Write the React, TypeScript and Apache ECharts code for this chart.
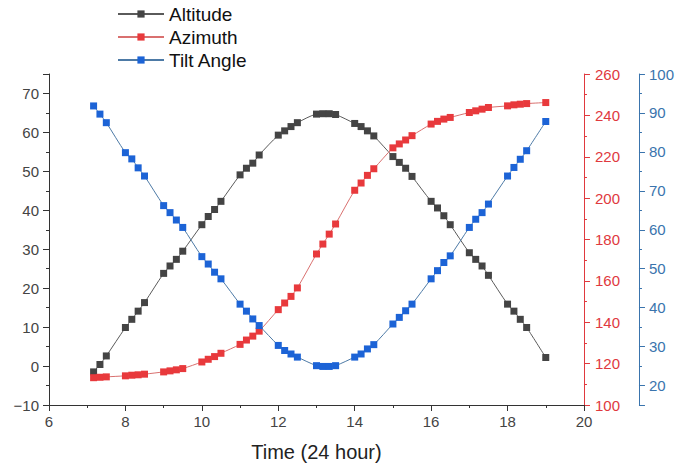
import React, { useEffect, useRef } from "react";
import * as echarts from "echarts";

const times = [
  7.167, 7.333, 7.5,
  8, 8.167, 8.333, 8.5,
  9, 9.167, 9.333, 9.5,
  10, 10.167, 10.333, 10.5,
  11, 11.167, 11.333, 11.5,
  12, 12.167, 12.333, 12.5,
  13, 13.167, 13.333, 13.5,
  14, 14.167, 14.333, 14.5,
  15, 15.167, 15.333, 15.5,
  16, 16.167, 16.333, 16.5,
  17, 17.167, 17.333, 17.5,
  18, 18.167, 18.333, 18.5,
  19,
];

const altitude = [
  -1.5, 0.4, 2.6,
  9.9, 12.0, 14.1, 16.3,
  23.8, 25.7, 27.4, 29.5,
  36.3, 38.4, 40.2, 42.3,
  49.1, 50.8, 52.1, 54.2,
  59.3, 60.4, 61.5, 62.5,
  64.7, 64.8, 64.8, 64.6,
  62.3, 61.5, 60.4, 59.1,
  53.8, 52.3, 50.8, 48.7,
  42.3, 40.6, 38.6, 36.3,
  29.1, 27.4, 25.7, 23.3,
  15.9, 14.1, 12.0, 9.9,
  2.2,
];

const azimuth = [
  113.2, 113.4, 113.6,
  114.1, 114.4, 114.6, 114.9,
  116.0, 116.5, 117.0, 117.6,
  120.8, 122.1, 123.4, 125.0,
  129.3, 131.4, 133.3, 135.7,
  146.1, 149.3, 152.5, 156.6,
  173.0, 177.8, 182.6, 187.5,
  203.8, 207.3, 211.0, 214.2,
  224.3, 226.2, 228.1, 230.2,
  235.8, 237.1, 238.2, 239.0,
  241.4, 242.2, 243.0, 243.8,
  244.6, 245.1, 245.4, 245.7,
  246.2,
];

const tilt = [
  91.8, 89.7, 87.5,
  79.8, 78.2, 75.9, 73.8,
  66.2, 64.4, 62.5, 60.6,
  53.1, 51.2, 49.1, 47.4,
  40.9, 39.1, 37.1, 35.4,
  30.3, 29.0, 28.1, 27.3,
  25.1, 24.9, 24.9, 25.1,
  27.3, 28.1, 29.4, 30.5,
  35.8, 37.5, 39.2, 40.9,
  47.4, 49.5, 51.6, 53.3,
  60.6, 62.7, 64.4, 66.6,
  73.8, 76.0, 78.1, 80.3,
  87.8,
];

const seriesNames = ["Altitude", "Azimuth", "Tilt Angle"];

const FONT = 'Arial, "Liberation Sans", sans-serif';

export default function App() {
  const ref = useRef<HTMLDivElement>(null);
  useEffect(() => {
    if (!ref.current) return;
    const chart = echarts.init(ref.current, undefined, { renderer: "svg" });
    const pair = (vals: number[]) => times.map((t, i) => [t, vals[i]]);
    const black = "#444444";
    const red = "#e8393c";
    const blue = "#1c63d6";
    const blueAxis = "#3a74ad";
    const redAxis = "#e0393e";
    const axisLabelBase = { fontFamily: FONT, fontSize: 15 };
    chart.setOption({
      animation: false,
      backgroundColor: "#ffffff",
      textStyle: { fontFamily: FONT },
      grid: { left: 49, right: 92, top: 74, bottom: 61, containLabel: false },
      legend: {
        data: seriesNames,
        orient: "vertical",
        left: 117,
        top: 4,
        padding: 0,
        itemWidth: 46,
        itemHeight: 9,
        itemGap: 3,
        textStyle: { fontFamily: FONT, fontSize: 19, lineHeight: 20, color: "#111" },
      },
      xAxis: {
        type: "value",
        min: 6,
        max: 20,
        interval: 2,
        name: "Time (24 hour)",
        nameLocation: "middle",
        nameGap: 37,
        nameTextStyle: { fontFamily: FONT, fontSize: 20, color: "#222" },
        axisLine: { onZero: false, lineStyle: { color: "#333", width: 1 } },
        axisTick: { length: 6, lineStyle: { color: "#333" } },
        minorTick: { show: true, splitNumber: 2, length: 3, lineStyle: { color: "#333" } },
        axisLabel: { ...axisLabelBase, color: "#444", margin: 9 },
        splitLine: { show: false },
      },
      yAxis: [
        {
          type: "value",
          min: -10,
          max: 75,
          interval: 10,
          position: "left",
          axisLine: { show: true, onZero: false, lineStyle: { color: "#333", width: 1 } },
          axisTick: { show: true, length: 6, lineStyle: { color: "#333" } },
          minorTick: { show: true, splitNumber: 2, length: 3, lineStyle: { color: "#333" } },
          axisLabel: {
            ...axisLabelBase,
            color: "#444",
            margin: 10,
            showMaxLabel: false,
            formatter: (v: number) => (v < 0 ? "\u2212" + Math.abs(v) : String(v)),
          },
          splitLine: { show: false },
        },
        {
          type: "value",
          min: 100,
          max: 260,
          interval: 20,
          position: "right",
          offset: 0,
          axisLine: { show: true, onZero: false, lineStyle: { color: redAxis, width: 1 } },
          axisTick: { show: true, length: 6, lineStyle: { color: redAxis } },
          minorTick: { show: true, splitNumber: 2, length: 3, lineStyle: { color: redAxis } },
          axisLabel: { ...axisLabelBase, color: redAxis, margin: 11 },
          splitLine: { show: false },
        },
        {
          type: "value",
          min: 15,
          max: 100,
          minInterval: 10,
          maxInterval: 10,
          position: "right",
          offset: 55,
          axisLine: { show: true, onZero: false, lineStyle: { color: blueAxis, width: 1 } },
          axisTick: { show: true, length: 6, lineStyle: { color: blueAxis } },
          minorTick: { show: true, splitNumber: 2, length: 3, lineStyle: { color: blueAxis } },
          axisLabel: { ...axisLabelBase, color: blueAxis, margin: 10, showMinLabel: false },
          splitLine: { show: false },
        },
      ],
      series: [
        {
          name: seriesNames[0],
          type: "line",
          yAxisIndex: 0,
          data: pair(altitude),
          smooth: 0.3,
          symbol: "rect",
          symbolSize: 7,
          itemStyle: { color: black },
          lineStyle: { color: "#5a5a5a", width: 1 },
          z: 3,
        },
        {
          name: seriesNames[1],
          type: "line",
          yAxisIndex: 1,
          data: pair(azimuth),
          smooth: 0.3,
          symbol: "rect",
          symbolSize: 7,
          itemStyle: { color: red },
          lineStyle: { color: "#d9706f", width: 1 },
          z: 4,
        },
        {
          name: seriesNames[2],
          type: "line",
          yAxisIndex: 2,
          data: pair(tilt),
          smooth: 0.3,
          symbol: "rect",
          symbolSize: 7,
          itemStyle: { color: blue },
          lineStyle: { color: "#4d7aa6", width: 1 },
          z: 5,
        },
      ],
    });
    return () => chart.dispose();
  }, []);
  return (
    <div
      ref={ref}
      style={{ position: "fixed", left: 0, top: 0, width: 677, height: 467 }}
    />
  );
}
